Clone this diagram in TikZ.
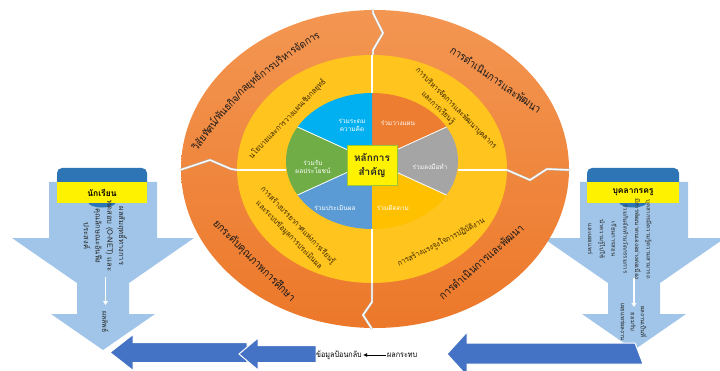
\documentclass[tikz,border=0pt]{standalone}
\usepackage{fontspec}
\setmainfont{Loma}[Script=Thai]
\newfontfamily\thn{Loma}[Script=Thai, FakeStretch=0.9]
\usetikzlibrary{arrows.meta}
\definecolor{orTop}{RGB}{243,150,82}
\definecolor{orBot}{RGB}{236,120,42}
\definecolor{ringY}{RGB}{255,196,30}
\definecolor{pSky}{RGB}{0,176,240}
\definecolor{pOra}{RGB}{237,125,49}
\definecolor{pGray}{RGB}{165,165,165}
\definecolor{pYel}{RGB}{255,192,0}
\definecolor{pBlue}{RGB}{91,155,213}
\definecolor{pGreen}{RGB}{112,173,71}
\definecolor{lightB}{RGB}{160,197,232}
\definecolor{tabB}{RGB}{46,117,182}
\definecolor{darkB}{RGB}{68,114,196}
\definecolor{ytext}{RGB}{60,40,0}
\tikzset{
  divider/.style={draw=gray!55, double=white, double distance=1.4pt, line width=0.5pt},
  seg/.style={draw=white, line width=0.8pt},
  pietext/.style={text=white, font=\fontsize{6.5}{8}\selectfont, align=center, inner sep=0pt},
  lightarrow/.style={fill=lightB},
  yband/.style={fill=yellow, minimum width=90pt, minimum height=21pt, inner sep=0pt, font=\fontsize{8.5}{10}\bfseries\selectfont},
  vtext/.style={rotate=-90, align=center, inner sep=0pt, font=\fontsize{7}{11.5}\selectfont, text=black!85},
  warrow/.style={draw=white, line width=1.6pt, -{Triangle[length=4pt,width=5pt]}},
  bluearrow/.style={fill=darkB, draw=white, line width=1pt, line join=miter},
  btext/.style={font=\thn\fontsize{8}{10}\selectfont, inner sep=1pt},
  ytx/.style={inner sep=0pt, text=ytext, font=\thn\fontsize{7.8}{9}\selectfont},
  otx/.style={inner sep=0pt, text=black!90, font=\thn\fontsize{11}{12}\selectfont},
  achunk/.style={otx, font=\thn\fontsize{10.5}{12}\selectfont, anchor=west, outer sep=0pt}
}
\begin{document}
\begin{tikzpicture}[x=1pt,y=1pt]
\useasboundingbox (0,0) rectangle (720,370);
% ---------- side arrows ----------
\fill[lightarrow] (49,188) -- (49,132) -- (12,132) -- (77,87) -- (77,56) -- (51,56) -- (103,20)
  -- (155,56) -- (129,56) -- (129,87) -- (194,132) -- (157,132) -- (157,188) -- cycle;
\fill[lightarrow] (580,188) -- (580,132) -- (543,132) -- (608,87) -- (608,56) -- (582,56) -- (634,20)
  -- (686,56) -- (660,56) -- (660,87) -- (725,132) -- (688,132) -- (688,188) -- cycle;
% tabs
\fill[tabB, rounded corners=5pt] (57,180) rectangle (147,202);
\fill[tabB] (88,168) arc[start angle=180, end angle=360, x radius=14, y radius=5.5] -- cycle;
\node[yband] (stu) at (102,177.5) {นักเรียน};
\fill[tabB, rounded corners=5pt] (587,180) rectangle (679,202);
\fill[tabB] (619,168) arc[start angle=180, end angle=360, x radius=14, y radius=5.5] -- cycle;
\node[yband, minimum width=92pt] (tch) at (633,177.5) {บุคลากรครู};
% vertical texts
\node[vtext, font=\fontsize{7.5}{11.7}\selectfont] (stuA) at (105.5,134) {ผลสัมฤทธิ์ทางการ\\ทดสอบ (O-NET) และ\\คุณลักษณะอันพึง\\ประสงค์};
\node[vtext] (stuB) at (105.5,48) {ผลลัพธ์};
\draw[warrow] (105.5,93) -- (105.5,65);
\node[vtext, font=\fontsize{6}{11.7}\selectfont] (tchA) at (620,131) {บุคลากรมีความรู้ความสามารถ\\มีการพัฒนาตนเองอย่างต่อเนื่อง\\ร่วมกันจัดทำนวัตกรรมการ\\เรียนการสอน\\นำความรู้ไปใช้\\และเผยแพร่};
\node[vtext, font=\fontsize{6}{10}\selectfont] (tchB) at (634,48) {ผลงานเป็นที่\\ยอมรับ\\เผยแพร่ผลงาน};
\draw[warrow] (634,92) -- (634,63);
% ---------- bottom arrows ----------
\filldraw[bluearrow] (110,17.5) -- (133,35.5) -- (133,27.5) -- (247,27.5) -- (247,7.5) -- (133,7.5) -- (133,-0.5) -- cycle;
\filldraw[bluearrow] (239,16) -- (258,32) -- (258,24.5) -- (316,24.5) -- (316,7.5) -- (258,7.5) -- (258,0) -- cycle;
\filldraw[bluearrow] (447,16) -- (467,38) -- (467,27) -- (635,27) -- (643,6) -- (467,6) -- (467,-6) -- cycle;
\node[btext, anchor=east] (fb) at (363,15) {ข้อมูลป้อนกลับ};
\node[btext, anchor=west] (imp) at (386,15) {ผลกระทบ};
\draw[-{Latex[length=4pt,width=4pt]}, line width=1pt] (imp) -- (fb);
% ---------- outer ring ----------
\shade[top color=orTop, bottom color=orBot] (375,201) ellipse[x radius=194, y radius=159];
\fill[ringY] (372,201) ellipse[x radius=135, y radius=114];
% pie
\begin{scope}[shift={(372,209)}]
\fill[pOra] (0,0) -- (90:86 and 68) arc[start angle=90, end angle=30, x radius=86, y radius=68] -- cycle;
\fill[pSky] (0,0) -- (90:86 and 68) arc[start angle=90, end angle=150, x radius=86, y radius=68] -- cycle;
\fill[pGreen] (0,0) -- (150:86 and 68) arc[start angle=150, end angle=210, x radius=86, y radius=68] -- cycle;
\fill[pBlue] (0,0) -- (210:86 and 68) arc[start angle=210, end angle=270, x radius=86, y radius=68] -- cycle;
\fill[pYel] (0,0) -- (270:86 and 68) arc[start angle=270, end angle=330, x radius=86, y radius=68] -- cycle;
\fill[pGray] (0,0) -- (330:86 and 68) arc[start angle=330, end angle=390, x radius=86, y radius=68] -- cycle;
\foreach \a in {30,150,210,330} \draw[seg] (0,0) -- (\a:86 and 68);
\end{scope}
% dividers
\draw[divider] (372,277) -- (372,315);
\draw[divider] (372,141) -- (372,87);
\draw[divider] (286,200) -- (237,200);
\draw[divider] (458,200) -- (507,200);
\draw[divider] (373,315) -- (373,320) -- (383,337) -- (373,357) -- (373,361);
\draw[divider] (372,87) -- (372,68) -- (363,55) -- (372,41);
\draw[divider] (237,200) -- (231,201) -- (210,210) -- (180,200);
\draw[divider] (507,200) -- (530,190) -- (547,201) -- (570,200);
% pie texts
\node[pietext] (p1) at (352,245) {ร่วมระดม\\ความคิด};
\node[pietext] (p2) at (398,247) {ร่วมวางแผน};
\node[pietext] (p3) at (430,203) {ร่วมลงมือทำ};
\node[pietext] (p4) at (393,162) {ร่วมติดตาม};
\node[pietext] (p5) at (335,162) {ร่วมประเมินผล};
\node[pietext] (p6) at (313,203) {ร่วมรับ\\ผลประโยชน์};
\node[fill=yellow, draw=pGreen!70!yellow, line width=0.8pt, minimum width=50pt, minimum height=40pt,
  align=center, inner sep=1pt, font=\fontsize{10}{14}\bfseries\selectfont, text=black!85] (core) at (372,205) {หลักการ\\สำคัญ};
% yellow ring texts
\node[ytx, rotate=46] (ya) at (287.5,251) {นโยบายและการวางแผนเชิงกลยุทธ์};
\node[ytx, rotate=-45] (yb) at (456,261.5) {การบริหารจัดการและพัฒนาบุคลากร};
\node[ytx, rotate=-45] (yc) at (438,262) {และการเรียนรู้};
\node[ytx, rotate=-46] (yd) at (298,144.5) {การสร้างบรรยากาศแห่งการเรียนรู้};
\node[ytx, rotate=-46] (ye) at (289,135) {และระบบข้อมูลการประเมินผล};
\node[ytx, rotate=27] (yf) at (441,127.5) {การสร้างแรงจูงใจการปฏิบัติงาน};
% orange ring texts (top-left one follows an arc, chunk after chunk)
\node[achunk, rotate=53] (oa1) at (193.4,221.5) {วิสัยทัศน์/};
\node[achunk, rotate=47] (oa2) at (oa1.east) {พันธกิจ/};
\node[achunk, rotate=42] (oa3) at (oa2.east) {กลยุทธ์};
\node[achunk, rotate=37] (oa4) at (oa3.east) {การบริหาร};
\node[achunk, rotate=32] (oa5) at (oa4.east) {จัดการ};
\node[otx, rotate=-35] (ob) at (496,290.5) {การดำเนินการและพัฒนา};
\node[otx, rotate=-45] (oc) at (254,109) {ยกระดับคุณภาพการศึกษา};
\node[otx, rotate=41] (od) at (481,108.5) {การดำเนินการและพัฒนา};
\end{tikzpicture}
\end{document}
